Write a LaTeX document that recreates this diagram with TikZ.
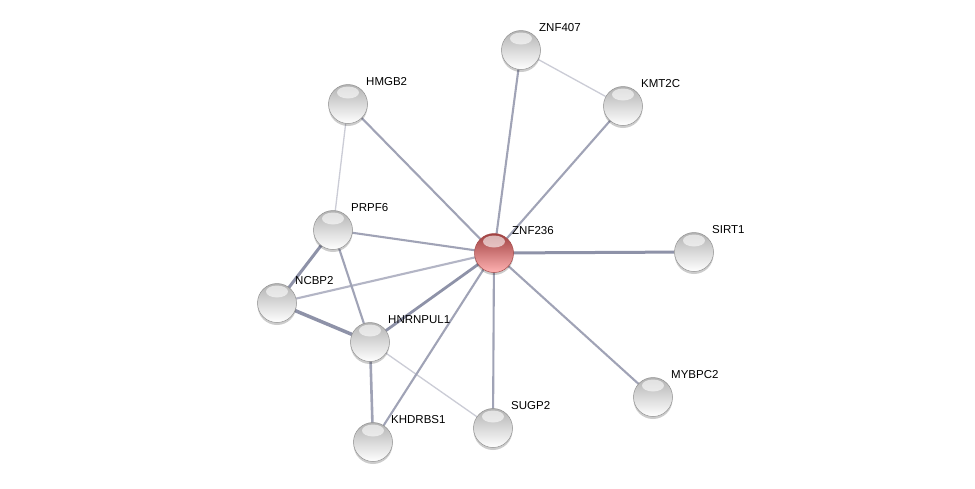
\documentclass[tikz,border=0pt]{standalone}
\usepackage{fontspec}
\setmainfont{Liberation Sans}
\usetikzlibrary{shadows}
\definecolor{edgemid}{HTML}{A0A3B6}
\definecolor{edgedark}{HTML}{8E92A8}
\definecolor{edgelight}{HTML}{CBCCD6}
\tikzset{
  ball/.style={circle, minimum size=39pt, inner sep=0pt, draw=#1, line width=0.5pt,
    drop shadow={shadow xshift=0pt, shadow yshift=-2.5pt, opacity=0.2, fill=black},
    path picture={
      \fill[white, opacity=0.6] ([yshift=-8pt]path picture bounding box.north) ellipse (11pt and 6pt);
    }},
  greyball/.style={ball=gray!85, top color=gray!60, middle color=gray!10, bottom color=white},
  redball/.style={ball=red!50!black!70, top color=red!50!black!75, middle color=red!45!white!90!black, bottom color=red!30!white},
  lbl/.style={anchor=west, font=\fontsize{11.5}{13}\selectfont, inner sep=1pt, text=black},
  emid/.style={draw=edgemid, line width=2.1pt},
  ethick/.style={draw=edgedark, line width=3pt},
  elight/.style={draw=edgelight, line width=1.3pt},
}
\begin{document}
\begin{tikzpicture}[x=1pt, y=-1pt]
\useasboundingbox[fill=white] (0,0) rectangle (975,488);
% coordinates
\coordinate (cZNF407) at (521,50);
\coordinate (cKMT2C) at (623,106);
\coordinate (cHMGB2) at (348,104);
\coordinate (cPRPF6) at (333,230);
\coordinate (cZNF236) at (494,253);
\coordinate (cSIRT1) at (694,252);
\coordinate (cNCBP2) at (277,303);
\coordinate (cHNRNPUL1) at (370,342);
\coordinate (cMYBPC2) at (653,397);
\coordinate (cSUGP2) at (493,428);
\coordinate (cKHDRBS1) at (373,442);
% edges
\draw[elight] (cZNF407) -- (cKMT2C);
\draw[elight] (cHMGB2) -- (cPRPF6);
\draw[elight] (cHNRNPUL1) -- (cSUGP2);
\draw[emid] (cZNF407) -- (cZNF236);
\draw[emid] (cKMT2C) -- (cZNF236);
\draw[emid] (cHMGB2) -- (cZNF236);
\draw[emid] (cPRPF6) -- (cZNF236);
\draw[emid, draw=edgemid!80] (cNCBP2) -- (cZNF236);
\draw[emid] (cZNF236) -- (cMYBPC2);
\draw[emid] (cZNF236) -- (cSUGP2);
\draw[emid] (cZNF236) -- (cKHDRBS1);
\draw[emid] (cPRPF6) -- (cHNRNPUL1);
\draw[emid, line width=2.6pt] (cHNRNPUL1) -- (cKHDRBS1);
\draw[ethick] (cZNF236) -- (cSIRT1);
\draw[ethick] (cPRPF6) -- (cNCBP2);
\draw[ethick, line width=3.5pt] (cNCBP2) -- (cHNRNPUL1);
\draw[ethick, line width=2.8pt] (cHNRNPUL1) -- (cZNF236);
% nodes
\node[greyball] (ZNF407) at (cZNF407) {};
\node[greyball] (KMT2C) at (cKMT2C) {};
\node[greyball] (HMGB2) at (cHMGB2) {};
\node[greyball] (PRPF6) at (cPRPF6) {};
\node[redball] (ZNF236) at (cZNF236) {};
\node[greyball] (SIRT1) at (cSIRT1) {};
\node[greyball] (NCBP2) at (cNCBP2) {};
\node[greyball] (HNRNPUL1) at (cHNRNPUL1) {};
\node[greyball] (MYBPC2) at (cMYBPC2) {};
\node[greyball] (SUGP2) at (cSUGP2) {};
\node[greyball] (KHDRBS1) at (cKHDRBS1) {};
% labels
\node[lbl] (lZNF407) at ([xshift=17pt,yshift=22pt]cZNF407) {ZNF407};
\node[lbl] (lKMT2C) at ([xshift=17pt,yshift=22pt]cKMT2C) {KMT2C};
\node[lbl] (lHMGB2) at ([xshift=17pt,yshift=22pt]cHMGB2) {HMGB2};
\node[lbl] (lPRPF6) at ([xshift=17pt,yshift=22pt]cPRPF6) {PRPF6};
\node[lbl] (lZNF236) at ([xshift=17pt,yshift=22pt]cZNF236) {ZNF236};
\node[lbl] (lSIRT1) at ([xshift=17pt,yshift=22pt]cSIRT1) {SIRT1};
\node[lbl] (lNCBP2) at ([xshift=17pt,yshift=22pt]cNCBP2) {NCBP2};
\node[lbl] (lHNRNPUL1) at ([xshift=17pt,yshift=22pt]cHNRNPUL1) {HNRNPUL1};
\node[lbl] (lMYBPC2) at ([xshift=17pt,yshift=22pt]cMYBPC2) {MYBPC2};
\node[lbl] (lSUGP2) at ([xshift=17pt,yshift=22pt]cSUGP2) {SUGP2};
\node[lbl] (lKHDRBS1) at ([xshift=17pt,yshift=22pt]cKHDRBS1) {KHDRBS1};
\end{tikzpicture}
\end{document}
